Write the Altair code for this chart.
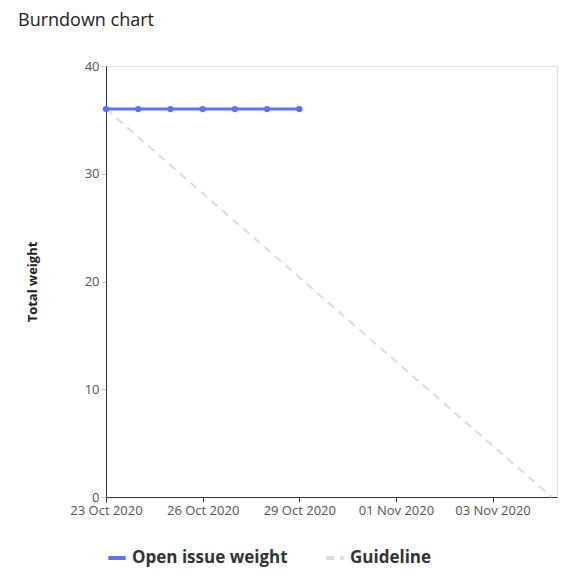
import altair as alt
import pandas as pd

open_dates = ["2020-10-23", "2020-10-24", "2020-10-25", "2020-10-26", "2020-10-27", "2020-10-28", "2020-10-29"]
open_weight = [36, 36, 36, 36, 36, 36, 36]
guide_dates = ["2020-10-23", "2020-11-05T20:00"]
guide_weight = [36, 0]
tick_dates = ["2020-10-23", "2020-10-26", "2020-10-29", "2020-11-01", "2020-11-04"]
tick_labels = ["23 Oct 2020", "26 Oct 2020", "29 Oct 2020", "01 Nov 2020", "03 Nov 2020"]

df_open = pd.DataFrame({"date": open_dates, "weight": open_weight, "series": "Open issue weight"})
df_guide = pd.DataFrame({"date": guide_dates, "weight": guide_weight, "series": "Guideline"})

label_expr = "{" + ",".join(f"'{d}':'{l}'" for d, l in zip(tick_dates, tick_labels)) + "}[timeFormat(datum.value,'%Y-%m-%d')]"

x = alt.X("date:T", title=None,
          scale=alt.Scale(domain=["2020-10-23", "2020-11-06"]),
          axis=alt.Axis(values=tick_dates, labelExpr=label_expr, grid=False, labelOverlap=False,
                        labelFlush=False, labelFontSize=13, labelColor="#555", domainColor="#333",
                        tickColor="#333", labelPadding=2))
y = alt.Y("weight:Q", title="Total weight",
          scale=alt.Scale(domain=[0, 40]),
          axis=alt.Axis(values=[0, 10, 20, 30, 40], grid=False, labelFontSize=13,
                        labelColor="#555", domainColor="#333", tickColor="#ccc",
                        titleFontSize=13, titleColor="#222", titlePadding=45))
color = alt.Color("series:N",
                  scale=alt.Scale(domain=["Open issue weight", "Guideline"], range=["#5b74f4", "#dcdcdc"]),
                  legend=alt.Legend(title=None, orient="bottom", direction="horizontal",
                                    symbolType="stroke", symbolStrokeWidth=4, symbolSize=300,
                                    labelFontSize=17, labelFontWeight="bold", labelColor="#333",
                                    columnPadding=30, offset=30))
dash = alt.StrokeDash("series:N",
                      scale=alt.Scale(domain=["Open issue weight", "Guideline"], range=[[1, 0], [8, 6]]),
                      legend=None)

guide = alt.Chart(df_guide).mark_line(strokeWidth=2).encode(x=x, y=y, color=color, strokeDash=dash)
line = alt.Chart(df_open).mark_line(strokeWidth=3, point=alt.OverlayMarkDef(size=40, filled=True)).encode(
    x=x, y=y, color=color, strokeDash=dash)

chart = alt.layer(guide, line).properties(
    width=569, height=568,
    autosize=alt.AutoSizeParams(type="fit", contains="padding"),
    title=alt.TitleParams("Burndown chart", anchor="start", fontSize=18, fontWeight="normal",
                          color="#222", offset=30, frame="group", dx=-88),
    padding={"left": 10, "top": 4, "right": 20, "bottom": 10}
).configure_view(strokeWidth=0).configure(font="Open Sans")

chart.save("out.html", embed_options={"renderer": "svg", "actions": False})
